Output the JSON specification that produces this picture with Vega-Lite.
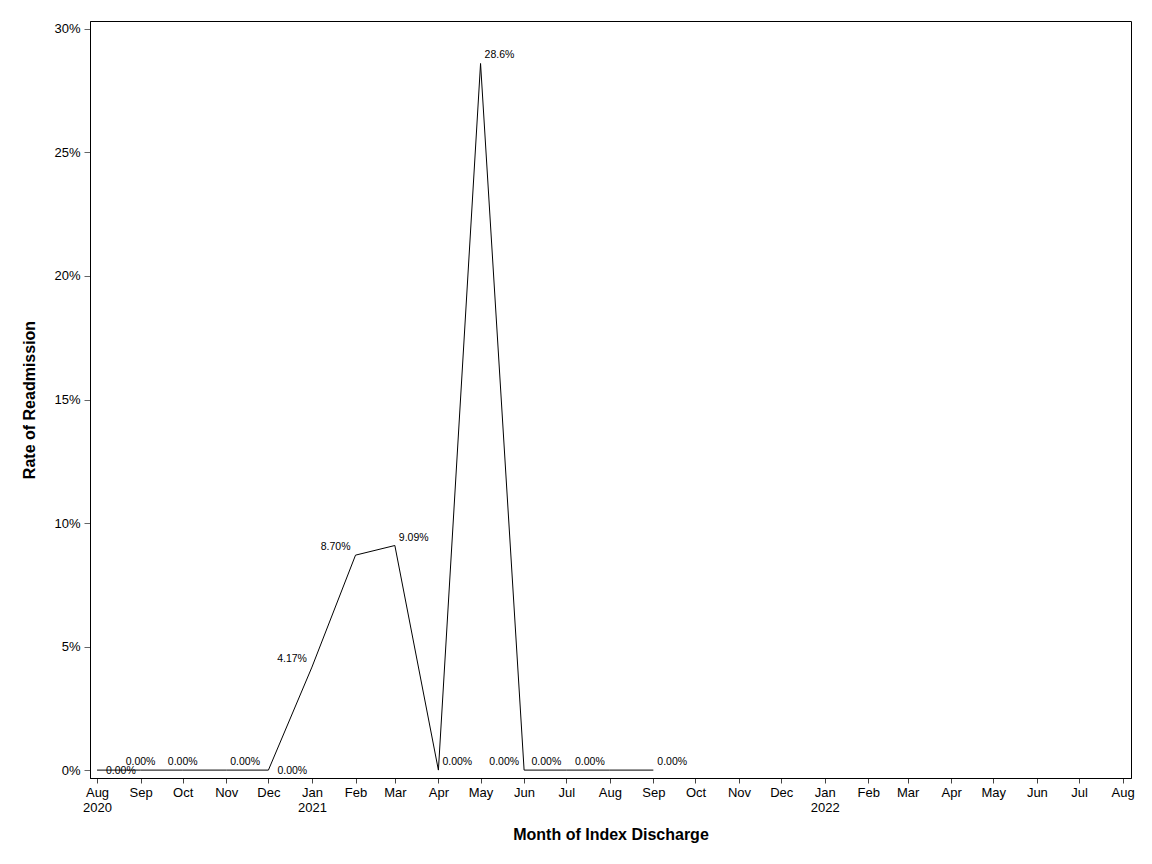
{
  "$schema": "https://vega.github.io/schema/vega-lite/v6.json",
  "width": 1041,
  "height": 757,
  "autosize": {"type": "none"},
  "padding": {"left": 90, "top": 21, "right": 21, "bottom": 86},
  "background": "white",
  "config": {
    "font": "Liberation Sans",
    "view": {"stroke": "black", "strokeWidth": 1},
    "axis": {"grid": false, "domainColor": "black", "labelColor": "black", "titleColor": "black", "labelFont": "Liberation Sans", "titleFont": "Liberation Sans"}
  },
  "data": {
    "values": [
      {"date": "2020-08-01", "rate": 0.0, "label": "0.00%"},
      {"date": "2020-09-01", "rate": 0.0, "label": "0.00%"},
      {"date": "2020-10-01", "rate": 0.0, "label": "0.00%"},
      {"date": "2020-11-01", "rate": 0.0, "label": "0.00%"},
      {"date": "2020-12-01", "rate": 0.0, "label": "0.00%"},
      {"date": "2021-01-01", "rate": 0.0417, "label": "4.17%"},
      {"date": "2021-02-01", "rate": 0.087, "label": "8.70%"},
      {"date": "2021-03-01", "rate": 0.0909, "label": "9.09%"},
      {"date": "2021-04-01", "rate": 0.0, "label": "0.00%"},
      {"date": "2021-05-01", "rate": 0.286, "label": "28.6%"},
      {"date": "2021-06-01", "rate": 0.0, "label": "0.00%"},
      {"date": "2021-07-01", "rate": 0.0, "label": "0.00%"},
      {"date": "2021-08-01", "rate": 0.0, "label": "0.00%"},
      {"date": "2021-09-01", "rate": 0.0, "label": "0.00%"}
    ]
  },
  "encoding": {
    "x": {
      "field": "date",
      "type": "temporal",
      "scale": {
        "type": "utc",
        "domain": [
          {"year": 2020, "month": 7, "date": 27, "utc": true},
          {"year": 2022, "month": 8, "date": 7, "utc": true}
        ]
      },
      "axis": {
        "title": "Month of Index Discharge",
        "titleFontSize": 16,
        "titleFontWeight": "bold",
        "titlePadding": 12,
        "labelFontSize": 13,
        "labelLineHeight": 15,
        "labelPadding": 3,
        "tickSize": 5,
        "tickColor": "#444",
        "labelOverlap": false,
        "labelFlush": false,
        "values": [
          {"year": 2020, "month": 8, "date": 1, "utc": true},
          {"year": 2020, "month": 9, "date": 1, "utc": true},
          {"year": 2020, "month": 10, "date": 1, "utc": true},
          {"year": 2020, "month": 11, "date": 1, "utc": true},
          {"year": 2020, "month": 12, "date": 1, "utc": true},
          {"year": 2021, "month": 1, "date": 1, "utc": true},
          {"year": 2021, "month": 2, "date": 1, "utc": true},
          {"year": 2021, "month": 3, "date": 1, "utc": true},
          {"year": 2021, "month": 4, "date": 1, "utc": true},
          {"year": 2021, "month": 5, "date": 1, "utc": true},
          {"year": 2021, "month": 6, "date": 1, "utc": true},
          {"year": 2021, "month": 7, "date": 1, "utc": true},
          {"year": 2021, "month": 8, "date": 1, "utc": true},
          {"year": 2021, "month": 9, "date": 1, "utc": true},
          {"year": 2021, "month": 10, "date": 1, "utc": true},
          {"year": 2021, "month": 11, "date": 1, "utc": true},
          {"year": 2021, "month": 12, "date": 1, "utc": true},
          {"year": 2022, "month": 1, "date": 1, "utc": true},
          {"year": 2022, "month": 2, "date": 1, "utc": true},
          {"year": 2022, "month": 3, "date": 1, "utc": true},
          {"year": 2022, "month": 4, "date": 1, "utc": true},
          {"year": 2022, "month": 5, "date": 1, "utc": true},
          {"year": 2022, "month": 6, "date": 1, "utc": true},
          {"year": 2022, "month": 7, "date": 1, "utc": true},
          {"year": 2022, "month": 8, "date": 1, "utc": true}
        ],
        "labelExpr": "(utcFormat(datum.value, '%Y-%m') == '2020-08' || utcmonth(datum.value) == 0) ? [utcFormat(datum.value, '%b'), utcFormat(datum.value, '%Y')] : utcFormat(datum.value, '%b')"
      }
    },
    "y": {
      "field": "rate",
      "type": "quantitative",
      "scale": {"domain": [-0.0032, 0.3032], "nice": false, "zero": false},
      "axis": {
        "title": "Rate of Readmission",
        "titleFontSize": 16,
        "titleFontWeight": "bold",
        "titlePadding": 16,
        "labelFontSize": 13,
        "labelPadding": 4,
        "tickSize": 6,
        "tickColor": "#666",
        "format": ".0%",
        "values": [0, 0.05, 0.1, 0.15, 0.2, 0.25, 0.3]
      }
    }
  },
  "layer": [
    {"mark": {"type": "line", "color": "black", "strokeWidth": 1}},
    {
      "transform": [{"filter": "indexof(['2020-08', '2020-12'], utcFormat(toDate(datum.date), '%Y-%m')) >= 0"}],
      "mark": {"type": "text", "align": "left", "baseline": "middle", "dx": 9, "dy": 1, "fontSize": 10.5, "color": "black"},
      "encoding": {"text": {"field": "label", "type": "nominal"}}
    },
    {
      "transform": [{"filter": "indexof(['2020-09', '2020-10'], utcFormat(toDate(datum.date), '%Y-%m')) >= 0"}],
      "mark": {"type": "text", "align": "center", "baseline": "middle", "dy": -8, "fontSize": 10.5, "color": "black"},
      "encoding": {"text": {"field": "label", "type": "nominal"}}
    },
    {
      "transform": [{"filter": "indexof(['2020-11', '2021-03', '2021-04', '2021-05', '2021-09'], utcFormat(toDate(datum.date), '%Y-%m')) >= 0"}],
      "mark": {"type": "text", "align": "left", "baseline": "middle", "dx": 4, "dy": -8, "fontSize": 10.5, "color": "black"},
      "encoding": {"text": {"field": "label", "type": "nominal"}}
    },
    {
      "transform": [{"filter": "indexof(['2021-01', '2021-02', '2021-06', '2021-07', '2021-08'], utcFormat(toDate(datum.date), '%Y-%m')) >= 0"}],
      "mark": {"type": "text", "align": "right", "baseline": "middle", "dx": -5, "dy": -8, "fontSize": 10.5, "color": "black"},
      "encoding": {"text": {"field": "label", "type": "nominal"}}
    }
  ]
}
